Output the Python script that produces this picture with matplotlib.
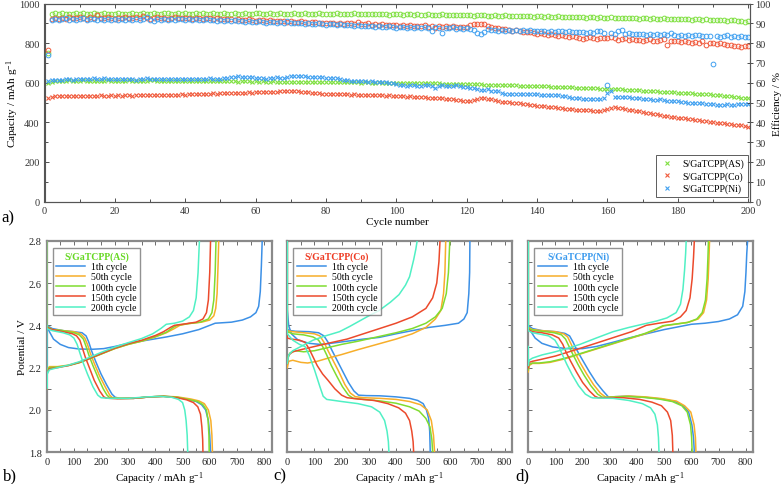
import matplotlib
matplotlib.use("Agg")
import matplotlib.pyplot as plt
from matplotlib.ticker import MultipleLocator

plt.rcParams["font.family"] = ["Liberation Serif", "DejaVu Serif"]
plt.rcParams["mathtext.fontset"] = "custom"
plt.rcParams["mathtext.rm"] = "Liberation Serif"
plt.rcParams["mathtext.it"] = "Liberation Serif:italic"

# ---------------- panel a: cycling data ----------------
cycles = list(range(1, 201))

cap_as = [600,
          606, 608, 610, 609, 611, 612, 610, 609, 611, 612, 610, 608, 609, 611, 610, 609, 612, 611, 610,
          609, 610, 611, 612, 609, 608, 610, 611, 609, 612, 613, 610, 608, 609, 611, 610, 609, 608, 610, 611,
          610, 609, 608, 610, 611, 609, 608, 607, 609, 610, 608, 607, 609, 608, 606, 607, 608, 607, 606, 607,
          606, 607, 605, 606, 607, 606, 605, 606, 604, 605, 606, 605, 604, 605, 606, 604, 603, 605, 604, 603,
          604, 603, 602, 604, 603, 602, 603, 604, 602, 601, 603, 602, 601, 600, 602, 601, 600, 601, 599, 600,
          599, 600, 598, 599, 598, 597, 598, 597, 597, 596, 596, 596, 595, 595, 594, 594, 594, 593, 593, 592,
          592, 592, 591, 591, 590, 590, 589, 589, 588, 588, 587, 587, 586, 586, 585, 585, 584, 584, 583, 583,
          582, 581, 581, 580, 579, 579, 578, 577, 577, 576, 575, 574, 574, 573, 572, 572, 571, 570, 569, 569,
          568, 567, 566, 566, 565, 564, 563, 562, 561, 560, 559, 558, 557, 556, 555, 554, 553, 552, 551, 550,
          549, 548, 547, 546, 545, 544, 543, 542, 541, 540, 539, 537, 535, 533, 531, 529, 527, 525, 523, 521]

cap_co = [525,
          530, 532, 533, 532, 534, 533, 532, 534, 535, 534, 533, 532, 535, 534, 536, 535, 534, 536, 535,
          536, 535, 537, 536, 535, 537, 538, 537, 536, 538, 539, 538, 537, 539, 540, 539, 538, 540, 541, 540,
          542, 541, 543, 542, 544, 545, 544, 546, 545, 547, 546, 548, 547, 549, 548, 550, 549, 551, 550, 552,
          551, 553, 552, 554, 555, 554, 556, 557, 556, 558, 557, 556, 555, 554, 552, 550, 548, 547, 545, 544,
          543, 544, 542, 543, 541, 542, 540, 541, 539, 540, 538, 539, 537, 538, 536, 537, 535, 536, 534, 535,
          533, 532, 530, 531, 529, 527, 528, 526, 524, 525, 523, 521, 522, 520, 518, 516, 514, 512, 510, 509,
          510, 514, 520, 525, 524, 520, 516, 512, 508, 505, 503, 501, 500, 498, 496, 493, 490, 488, 486, 484,
          482, 480, 478, 477, 475, 473, 471, 469, 467, 466, 464, 463, 462, 461, 460, 459, 458, 459, 461, 465,
          470, 475, 473, 470, 467, 464, 461, 458, 455, 452, 449, 446, 443, 440, 437, 434, 431, 428, 426, 424,
          422, 420, 417, 415, 412, 410, 407, 405, 402, 400, 398, 396, 394, 392, 390, 388, 386, 384, 381, 378]

cap_ni = [610,
          615, 613, 616, 614, 617, 618, 616, 620, 619, 617, 618, 620, 622, 619, 621, 623, 620, 618, 617,
          619, 620, 618, 617, 619, 616, 618, 620, 622, 621, 619, 618, 620, 621, 619, 617, 618, 620, 619, 617,
          618, 620, 621, 619, 618, 620, 622, 619, 617, 620, 622, 625, 628, 630, 632, 631, 629, 628, 627, 625,
          624, 622, 621, 623, 626, 627, 625, 624, 628, 632, 635, 634, 636, 633, 631, 630, 629, 628, 627, 626,
          625, 624, 622, 620, 615, 612, 610, 608, 607, 608, 609, 606, 607, 605, 604, 606, 603, 600, 597, 594,
          590, 586, 584, 586, 588, 584, 583, 586, 589, 585, 574, 581, 587, 583, 585, 582, 586, 584, 579, 576,
          573, 575, 566, 562, 565, 568, 560, 557, 560, 546, 544, 545, 543, 544, 542, 545, 543, 541, 543, 541,
          539, 540, 538, 537, 539, 536, 535, 533, 529, 525, 522, 521, 520, 518, 519, 520, 518, 519, 521, 548,
          556, 528, 526, 529, 527, 526, 524, 523, 522, 520, 519, 517, 515, 513, 516, 512, 510, 509, 507, 506,
          504, 503, 500, 498, 499, 497, 496, 494, 492, 490, 489, 487, 489, 490, 487, 489, 491, 490, 492, 490]

eff_as = [75.0,
          94.8, 95.0, 94.6, 95.2, 94.9, 94.5, 94.8, 95.1, 94.7, 95.0, 94.6, 94.9, 95.3, 94.8, 94.5, 95.0, 94.7, 94.9, 94.6,
          95.0, 94.7, 94.5, 94.9, 95.1, 94.8, 94.6, 95.0, 94.7, 94.9, 95.2, 94.8, 94.6, 95.0, 95.3, 94.9, 94.7, 95.1, 94.8, 95.0,
          94.9, 94.7, 95.1, 94.8, 95.0, 94.6, 94.9, 95.2, 94.8, 94.7, 95.0, 94.6, 94.9, 95.1, 94.8, 94.7, 95.0, 94.6, 94.9, 95.3,
          95.0, 94.8, 94.7, 95.1, 94.9, 94.6, 95.0, 94.8, 94.7, 94.9, 95.1, 94.8, 94.6, 95.0, 94.8, 94.9, 94.7, 95.0, 94.6, 94.8,
          94.9, 94.7, 95.0, 94.6, 94.8, 94.9, 94.7, 95.0, 94.6, 94.8, 94.5, 94.7, 94.9, 94.6, 94.8, 94.5, 94.7, 94.4, 94.6, 94.5,
          94.7, 94.4, 94.6, 94.5, 94.3, 94.6, 94.4, 94.2, 94.5, 94.3, 94.4, 94.2, 94.5, 94.1, 94.3, 94.2, 94.4, 94.1, 94.3, 94.0,
          94.2, 93.9, 94.1, 94.0, 94.2, 93.9, 93.8, 94.1, 93.9, 93.7, 94.0, 93.8, 93.6, 93.9, 93.7, 93.5, 93.8, 93.6, 93.4, 93.7,
          93.5, 93.3, 93.6, 93.4, 93.2, 93.5, 93.3, 93.1, 93.4, 93.2, 93.0, 93.3, 93.1, 92.9, 93.2, 93.0, 92.8, 93.1, 92.9, 92.7,
          93.0, 92.8, 92.6, 92.9, 92.7, 92.5, 92.8, 92.6, 92.4, 92.7, 92.5, 92.3, 92.6, 92.4, 92.2, 92.5, 92.3, 92.1, 92.4, 92.2,
          92.0, 92.3, 92.1, 91.9, 92.2, 92.0, 91.8, 92.1, 91.9, 91.7, 91.5, 91.8, 91.6, 91.4, 91.7, 91.5, 91.2, 91.4, 90.9, 91.1]

eff_co = [76.5,
          92.2, 92.6, 92.0, 92.8, 92.4, 93.0, 92.5, 92.9, 93.4, 92.7, 92.3, 93.1, 92.6, 94.0, 92.8, 92.5, 93.0, 92.7, 92.4,
          92.9, 92.6, 93.1, 92.5, 92.8, 93.2, 92.7, 93.5, 92.9, 92.3, 92.8, 93.0, 92.6, 92.9, 92.4, 92.8, 93.1, 92.6, 92.9, 92.5,
          92.8, 92.4, 92.9, 92.6, 92.2, 92.7, 92.5, 92.1, 92.6, 92.3, 92.0, 92.4, 92.1, 91.8, 92.2, 91.9, 91.6, 92.0, 91.7, 91.4,
          91.8, 91.5, 91.2, 91.6, 91.3, 91.0, 91.4, 91.1, 90.8, 91.2, 90.9, 90.6, 91.0, 90.7, 90.4, 90.8, 90.5, 90.2, 90.0, 89.9,
          90.3, 90.0, 89.7, 90.1, 89.8, 90.4, 90.2, 89.8, 90.5, 89.7, 89.5, 89.9, 89.3, 89.6, 89.2, 89.5, 89.0, 89.3, 88.9, 89.1,
          88.8, 89.2, 88.6, 88.9, 88.4, 88.8, 88.5, 88.9, 88.3, 88.7, 87.5, 88.6, 88.2, 88.5, 88.1, 88.4, 88.0, 88.3, 87.9, 88.2,
          89.3, 89.7, 89.5, 89.8, 89.4, 88.6, 88.2, 87.8, 87.5, 87.2, 86.9, 86.6, 86.3, 86.5, 86.0, 85.8, 85.4, 85.6, 85.1, 84.8,
          85.0, 84.6, 84.3, 84.5, 84.1, 83.8, 84.0, 83.6, 83.3, 83.5, 83.1, 82.8, 82.1, 82.4, 82.9, 82.6, 82.3, 82.5, 82.8, 82.4,
          83.0, 82.6, 81.8, 82.1, 82.5, 81.7, 82.0, 81.4, 81.8, 81.2, 81.5, 81.9, 81.3, 80.9, 81.4, 82.2, 78.8, 80.9, 81.3, 81.0,
          80.7, 81.1, 80.4, 80.0, 80.6, 80.3, 81.0, 79.2, 80.1, 79.8, 79.5, 79.9, 79.6, 79.2, 79.0, 78.6, 78.3, 78.1, 78.3, 78.4]

eff_ni = [74.0,
          91.8, 92.3, 91.6, 92.0, 92.5, 91.9, 92.2, 91.5, 92.1, 92.6, 91.8, 92.3, 92.0, 91.7, 92.4, 91.9, 92.2, 91.6, 92.0,
          91.7, 92.2, 91.9, 92.4, 91.6, 92.1, 91.8, 92.3, 93.0, 91.9, 91.2, 92.0, 91.7, 92.2, 91.8, 92.1, 91.6, 92.0, 92.4, 91.9,
          92.1, 91.7, 92.3, 91.8, 91.5, 92.0, 91.6, 91.9, 91.4, 91.8, 91.3, 91.6, 91.2, 91.5, 91.0, 91.3, 90.8, 91.2, 90.9, 90.6,
          91.0, 90.7, 90.4, 90.8, 90.5, 90.2, 90.6, 90.3, 91.0, 90.1, 89.9, 90.3, 90.0, 89.7, 90.2, 89.8, 89.5, 89.9, 89.6, 89.3,
          89.7, 89.4, 89.1, 89.5, 89.2, 88.9, 89.3, 88.6, 89.0, 88.7, 88.4, 88.8, 88.5, 88.2, 88.6, 88.3, 88.0, 88.4, 88.1, 87.8,
          88.2, 87.9, 87.6, 88.0, 87.7, 88.3, 87.5, 88.1, 87.8, 85.9, 88.0, 87.6, 84.9, 87.7, 87.4, 87.9, 87.3, 87.6, 87.2, 87.5,
          87.0, 86.8, 85.2, 84.6, 85.5, 86.9, 86.5, 86.8, 86.2, 86.6, 86.3, 86.7, 86.1, 86.5, 86.2, 86.6, 86.0, 86.4, 86.1, 85.9,
          86.3, 86.0, 85.7, 86.1, 85.8, 86.2, 85.9, 85.6, 86.0, 85.7, 85.4, 85.8, 85.5, 85.2, 85.6, 85.3, 85.9, 86.2, 85.1, 59.0,
          85.0, 84.8, 86.0, 86.4, 84.6, 84.9, 84.5, 84.8, 84.4, 84.7, 84.3, 84.6, 84.2, 84.5, 84.1, 84.4, 84.0, 85.2, 84.3, 83.8,
          84.1, 83.7, 84.0, 83.6, 84.2, 83.9, 83.5, 83.8, 83.4, 69.5, 83.7, 83.3, 83.6, 83.9, 83.2, 83.5, 83.1, 83.4, 83.0, 83.2]

series_labels = ["S/GaTCPP(AS)", "S/GaTCPP(Co)", "S/GaTCPP(Ni)"]
series_colors = ["#7fe040", "#f05a3c", "#40a0f0"]

# ---------------- panels b-d: charge / discharge profiles ----------------
cycle_labels = ["1th cycle", "50th cycle", "100th cycle", "150th cycle", "200th cycle"]
cycle_colors = ["#3c90e6", "#f7ae2a", "#80dc30", "#ec4a2c", "#50f0c4"]

# (capacity mAh/g, potential V)
as_dis = [
    [(0, 2.80), (0, 2.40), (20, 2.385), (60, 2.375), (100, 2.37), (130, 2.365), (145, 2.35), (155, 2.32), (165, 2.28), (180, 2.23), (200, 2.17), (220, 2.12), (240, 2.075), (252, 2.06), (270, 2.055), (320, 2.055), (380, 2.062), (430, 2.065), (480, 2.06), (520, 2.05), (550, 2.04), (570, 2.025), (585, 2.0), (595, 1.95), (600, 1.88), (603, 1.80)],
    [(0, 2.80), (0, 2.395), (20, 2.38), (60, 2.375), (100, 2.37), (125, 2.36), (140, 2.34), (150, 2.31), (160, 2.27), (175, 2.22), (195, 2.16), (215, 2.11), (232, 2.07), (242, 2.058), (270, 2.055), (320, 2.055), (380, 2.062), (430, 2.065), (480, 2.062), (530, 2.052), (560, 2.043), (580, 2.03), (595, 2.0), (604, 1.95), (608, 1.88), (610, 1.80)],
    [(0, 2.80), (0, 2.395), (20, 2.38), (60, 2.375), (100, 2.365), (120, 2.355), (135, 2.335), (145, 2.30), (155, 2.26), (170, 2.21), (190, 2.15), (208, 2.10), (222, 2.07), (232, 2.058), (260, 2.055), (320, 2.055), (380, 2.062), (430, 2.065), (480, 2.06), (520, 2.05), (555, 2.04), (575, 2.025), (588, 2.0), (594, 1.95), (597, 1.88), (598, 1.80)],
    [(0, 2.80), (0, 2.39), (20, 2.38), (60, 2.37), (95, 2.36), (110, 2.35), (122, 2.33), (132, 2.29), (142, 2.25), (157, 2.20), (175, 2.14), (195, 2.09), (210, 2.062), (220, 2.056), (260, 2.053), (320, 2.055), (380, 2.062), (430, 2.064), (480, 2.058), (515, 2.048), (540, 2.035), (556, 2.015), (566, 1.98), (571, 1.92), (574, 1.86), (575, 1.80)],
    [(0, 2.80), (0, 2.385), (20, 2.375), (60, 2.365), (85, 2.355), (100, 2.34), (112, 2.31), (122, 2.27), (135, 2.22), (150, 2.17), (170, 2.11), (188, 2.07), (200, 2.058), (230, 2.055), (300, 2.055), (370, 2.062), (420, 2.064), (460, 2.06), (485, 2.05), (500, 2.035), (508, 2.0), (513, 1.95), (517, 1.88), (519, 1.80)],
]
as_chg = [
    [(0, 2.16), (0, 2.40), (10, 2.37), (25, 2.335), (50, 2.31), (80, 2.295), (120, 2.288), (170, 2.287), (210, 2.29), (250, 2.30), (300, 2.315), (370, 2.33), (440, 2.345), (500, 2.36), (560, 2.38), (600, 2.40), (620, 2.41), (680, 2.415), (720, 2.425), (750, 2.44), (770, 2.46), (780, 2.49), (786, 2.56), (790, 2.68), (793, 2.80)],
    [(0, 2.10), (2, 2.19), (10, 2.205), (40, 2.205), (80, 2.212), (120, 2.225), (160, 2.245), (200, 2.265), (250, 2.29), (300, 2.31), (350, 2.325), (400, 2.345), (440, 2.365), (470, 2.385), (490, 2.40), (520, 2.408), (570, 2.415), (600, 2.425), (615, 2.445), (622, 2.48), (627, 2.55), (631, 2.70), (633, 2.80)],
    [(0, 2.10), (2, 2.19), (10, 2.20), (40, 2.203), (80, 2.21), (120, 2.223), (160, 2.243), (200, 2.264), (250, 2.29), (300, 2.31), (350, 2.326), (400, 2.347), (440, 2.367), (465, 2.39), (480, 2.40), (520, 2.408), (565, 2.415), (595, 2.43), (608, 2.46), (615, 2.52), (620, 2.65), (623, 2.80)],
    [(0, 2.10), (2, 2.18), (10, 2.195), (40, 2.20), (80, 2.21), (120, 2.225), (160, 2.245), (200, 2.266), (250, 2.292), (300, 2.313), (350, 2.33), (400, 2.352), (430, 2.37), (455, 2.39), (470, 2.40), (510, 2.407), (550, 2.415), (575, 2.43), (588, 2.46), (595, 2.52), (600, 2.65), (603, 2.80)],
    [(0, 2.40), (0, 2.10), (2, 2.17), (10, 2.19), (40, 2.20), (80, 2.212), (120, 2.228), (160, 2.25), (200, 2.272), (250, 2.297), (300, 2.318), (350, 2.338), (390, 2.36), (420, 2.385), (440, 2.405), (470, 2.41), (500, 2.42), (525, 2.44), (540, 2.47), (550, 2.53), (557, 2.65), (562, 2.80)],
]

co_dis = [
    [(0, 2.80), (0, 2.38), (12, 2.375), (30, 2.372), (80, 2.37), (115, 2.365), (135, 2.35), (150, 2.32), (165, 2.28), (185, 2.23), (205, 2.18), (225, 2.13), (245, 2.09), (262, 2.07), (290, 2.068), (340, 2.067), (400, 2.062), (450, 2.055), (480, 2.045), (500, 2.03), (512, 2.0), (520, 1.96), (524, 1.90), (526, 1.80)],
    [(0, 2.80), (0, 2.375), (20, 2.37), (60, 2.365), (100, 2.36), (120, 2.35), (135, 2.32), (150, 2.28), (170, 2.23), (190, 2.18), (212, 2.12), (232, 2.08), (250, 2.063), (280, 2.058), (340, 2.055), (400, 2.05), (450, 2.04), (490, 2.025), (515, 2.0), (530, 1.95), (538, 1.88), (542, 1.80)],
    [(0, 2.80), (0, 2.37), (20, 2.36), (60, 2.355), (95, 2.345), (115, 2.33), (130, 2.30), (145, 2.26), (162, 2.21), (182, 2.16), (203, 2.11), (225, 2.07), (243, 2.055), (280, 2.05), (340, 2.043), (400, 2.032), (450, 2.015), (485, 1.995), (510, 1.96), (525, 1.92), (532, 1.86), (535, 1.80)],
    [(0, 2.80), (0, 2.34), (15, 2.335), (45, 2.33), (65, 2.32), (80, 2.29), (95, 2.25), (110, 2.21), (130, 2.17), (150, 2.14), (175, 2.10), (200, 2.07), (220, 2.058), (260, 2.052), (320, 2.045), (370, 2.03), (410, 2.01), (435, 1.985), (450, 1.95), (458, 1.90), (463, 1.85), (465, 1.80)],
    [(0, 2.80), (0, 2.36), (20, 2.33), (45, 2.31), (65, 2.30), (80, 2.26), (100, 2.19), (120, 2.11), (132, 2.065), (145, 2.05), (200, 2.04), (260, 2.03), (310, 2.015), (340, 1.99), (358, 1.95), (367, 1.90), (372, 1.85), (374, 1.80)],
]
co_chg = [
    [(0, 2.47), (5, 2.40), (15, 2.36), (40, 2.33), (80, 2.315), (120, 2.31), (160, 2.315), (220, 2.325), (280, 2.335), (338, 2.343), (400, 2.36), (460, 2.375), (520, 2.39), (581, 2.40), (630, 2.41), (650, 2.43), (662, 2.46), (668, 2.55), (671, 2.65), (672, 2.80)],
    [(0, 2.20), (5, 2.23), (20, 2.235), (50, 2.225), (75, 2.222), (110, 2.23), (150, 2.245), (200, 2.262), (260, 2.285), (330, 2.31), (400, 2.335), (460, 2.36), (510, 2.39), (545, 2.43), (565, 2.47), (575, 2.55), (580, 2.65), (583, 2.80)],
    [(0, 2.24), (10, 2.27), (30, 2.28), (60, 2.275), (100, 2.28), (150, 2.295), (200, 2.31), (260, 2.325), (330, 2.345), (400, 2.365), (460, 2.385), (510, 2.41), (545, 2.44), (570, 2.48), (585, 2.55), (593, 2.65), (598, 2.80)],
    [(0, 2.22), (5, 2.26), (20, 2.275), (50, 2.285), (100, 2.30), (160, 2.318), (220, 2.335), (280, 2.36), (340, 2.385), (400, 2.41), (460, 2.44), (510, 2.48), (535, 2.53), (550, 2.60), (558, 2.70), (562, 2.80)],
    [(0, 2.22), (5, 2.26), (20, 2.28), (50, 2.30), (95, 2.33), (140, 2.35), (192, 2.37), (230, 2.395), (265, 2.42), (300, 2.445), (338, 2.47), (380, 2.51), (411, 2.545), (435, 2.59), (450, 2.63), (465, 2.71), (473, 2.76), (478, 2.80)],
]

ni_dis = [
    [(0, 2.80), (0, 2.40), (15, 2.385), (50, 2.375), (100, 2.37), (135, 2.362), (152, 2.35), (165, 2.32), (180, 2.28), (200, 2.235), (225, 2.18), (250, 2.13), (275, 2.09), (296, 2.06), (320, 2.063), (370, 2.065), (430, 2.06), (490, 2.052), (540, 2.04), (570, 2.02), (590, 1.99), (602, 1.93), (608, 1.87), (611, 1.80)],
    [(0, 2.80), (0, 2.39), (15, 2.38), (50, 2.375), (100, 2.37), (130, 2.36), (145, 2.345), (158, 2.31), (172, 2.27), (190, 2.225), (215, 2.17), (240, 2.12), (265, 2.08), (285, 2.06), (310, 2.062), (370, 2.066), (430, 2.062), (490, 2.054), (545, 2.042), (575, 2.02), (598, 1.99), (610, 1.93), (615, 1.87), (617, 1.80)],
    [(0, 2.80), (0, 2.385), (15, 2.378), (50, 2.372), (95, 2.365), (122, 2.355), (137, 2.335), (150, 2.30), (165, 2.26), (183, 2.215), (205, 2.165), (230, 2.115), (255, 2.075), (273, 2.06), (300, 2.06), (360, 2.064), (420, 2.06), (480, 2.052), (530, 2.04), (565, 2.02), (585, 1.99), (597, 1.93), (601, 1.87), (603, 1.80)],
    [(0, 2.80), (0, 2.38), (15, 2.37), (50, 2.365), (88, 2.355), (112, 2.34), (127, 2.31), (140, 2.27), (156, 2.23), (177, 2.18), (200, 2.13), (225, 2.09), (245, 2.065), (257, 2.058), (290, 2.058), (350, 2.058), (410, 2.05), (455, 2.037), (490, 2.02), (512, 1.99), (524, 1.95), (530, 1.88), (532, 1.80)],
    [(0, 2.80), (0, 2.375), (15, 2.365), (45, 2.358), (75, 2.35), (98, 2.33), (112, 2.30), (126, 2.26), (142, 2.215), (162, 2.165), (185, 2.115), (210, 2.075), (230, 2.06), (238, 2.057), (270, 2.056), (312, 2.055), (370, 2.045), (420, 2.03), (450, 2.01), (466, 1.98), (475, 1.93), (479, 1.87), (481, 1.80)],
]
ni_chg = [
    [(0, 2.40), (10, 2.37), (25, 2.34), (50, 2.315), (90, 2.298), (140, 2.29), (200, 2.29), (250, 2.30), (312, 2.32), (370, 2.34), (434, 2.36), (500, 2.38), (560, 2.395), (600, 2.405), (650, 2.41), (700, 2.418), (740, 2.43), (770, 2.45), (789, 2.49), (797, 2.56), (801, 2.65), (804, 2.74), (807, 2.80)],
    [(0, 2.18), (3, 2.21), (15, 2.22), (40, 2.22), (80, 2.225), (130, 2.24), (180, 2.26), (230, 2.28), (280, 2.30), (330, 2.32), (380, 2.34), (430, 2.36), (470, 2.38), (500, 2.398), (540, 2.405), (590, 2.415), (625, 2.43), (645, 2.46), (656, 2.52), (662, 2.62), (665, 2.72), (667, 2.80)],
    [(0, 2.19), (3, 2.215), (15, 2.222), (40, 2.222), (80, 2.228), (130, 2.243), (180, 2.262), (230, 2.282), (280, 2.302), (330, 2.322), (380, 2.342), (430, 2.362), (465, 2.38), (495, 2.398), (535, 2.405), (585, 2.413), (620, 2.43), (640, 2.46), (652, 2.52), (658, 2.62), (661, 2.72), (663, 2.80)],
    [(0, 2.20), (3, 2.225), (15, 2.23), (50, 2.24), (100, 2.255), (150, 2.275), (200, 2.295), (260, 2.32), (320, 2.345), (380, 2.37), (434, 2.40), (480, 2.41), (532, 2.42), (560, 2.44), (581, 2.47), (595, 2.53), (603, 2.62), (608, 2.72), (611, 2.80)],
    [(0, 2.30), (0, 2.21), (3, 2.235), (15, 2.245), (50, 2.26), (90, 2.272), (128, 2.285), (190, 2.31), (250, 2.34), (312, 2.37), (370, 2.39), (420, 2.405), (471, 2.42), (510, 2.435), (544, 2.46), (560, 2.50), (569, 2.57), (575, 2.66), (579, 2.74), (581, 2.80)],
]

panel_titles = ["S/GaTCPP(AS)", "S/GaTCPP(Co)", "S/GaTCPP(Ni)"]
title_colors = ["#66d822", "#ee3a22", "#3a9aee"]

W, H = 784, 485


def px_axes(fig, left, top, right, bottom):
    return fig.add_axes([left / W, 1 - bottom / H, (right - left) / W, (bottom - top) / H])


def plot_cycling(fig):
    ax = px_axes(fig, 44.5, 4.5, 750, 202.5)
    ax2 = ax.twinx()
    caps = [cap_as, cap_co, cap_ni]
    effs = [eff_as, eff_co, eff_ni]
    for cap, eff, col, lab in zip(caps, effs, series_colors, series_labels):
        ax.plot(cycles, cap, ls="none", marker="x", ms=3.0, mew=0.8, color=col, label=lab)
        ax2.plot(cycles, eff, ls="none", marker="o", ms=3.4, mew=0.7, mfc="none", color=col)

    ax.set_xlim(0, 200.5)
    ax.set_ylim(0, 1000)
    ax2.set_ylim(0, 100)
    ax.xaxis.set_major_locator(MultipleLocator(20))
    ax.xaxis.set_minor_locator(MultipleLocator(10))
    ax.yaxis.set_major_locator(MultipleLocator(200))
    ax.yaxis.set_minor_locator(MultipleLocator(100))
    ax2.yaxis.set_major_locator(MultipleLocator(10))
    ax.tick_params(which="both", direction="in", top=True, labelsize=7.5, colors="#333333", length=3, width=0.6)
    ax.tick_params(which="minor", length=2)
    ax2.tick_params(direction="inout", labelsize=7.5, colors="#333333", length=4, width=0.6, pad=2)
    for a in (ax, ax2):
        for sp in a.spines.values():
            sp.set_color("#555555")
            sp.set_linewidth(0.8)

    ax.set_xlabel("Cycle number", fontsize=8, labelpad=1)
    ax.set_ylabel("Capacity / mAh g$^{-1}$", fontsize=8)
    ax.yaxis.set_label_coords(-0.034, 0.5)
    ax2.set_ylabel("Efficiency / %", fontsize=8, labelpad=1)

    leg = ax2.legend(*ax.get_legend_handles_labels(), loc="lower right", bbox_to_anchor=(0.997, 0.022),
                     borderaxespad=0, fontsize=7, frameon=True, fancybox=False, handlelength=1.5,
                     handletextpad=0.8, labelspacing=0.3, borderpad=0.4)
    leg.get_frame().set_edgecolor("#333333")
    leg.get_frame().set_linewidth(0.7)


def plot_profile(fig, left, dis, chg, title, title_color, show_ylabel):
    ax = px_axes(fig, left, 241.7, left + 225, 453.3)
    for curve_d, curve_c, col, lab in zip(dis, chg, cycle_colors, cycle_labels):
        q, v = zip(*curve_d)
        ax.plot(q, v, color=col, lw=1.1, label=lab, zorder=3)
        q, v = zip(*curve_c)
        ax.plot(q, v, color=col, lw=1.1, zorder=3)

    ax.set_xlim(0, 828)
    ax.set_ylim(1.8, 2.8)
    ax.xaxis.set_major_locator(MultipleLocator(100))
    ax.xaxis.set_minor_locator(MultipleLocator(50))
    ax.yaxis.set_major_locator(MultipleLocator(0.2))
    ax.yaxis.set_minor_locator(MultipleLocator(0.1))
    ax.tick_params(which="both", direction="in", top=True, right=True, labelsize=7.5, colors="#555555",
                   length=3, width=0.6)
    ax.tick_params(which="minor", length=3)
    ax.tick_params(labelcolor="#222222")
    for sp in ax.spines.values():
        sp.set_color("#8a8a8a")
        sp.set_linewidth(1.6)
    ax.set_xlabel("Capacity / mAh g$^{-1}$", fontsize=8, labelpad=2)
    if show_ylabel:
        ax.set_ylabel("Potential / V", fontsize=8)
        ax.yaxis.set_label_coords(-0.088, 0.5)
        ax.yaxis.set_major_formatter(plt.FuncFormatter(lambda v, p: f"{v:.1f}"))
    else:
        ax.tick_params(labelleft=False)

    leg = ax.legend(loc="upper left", bbox_to_anchor=(0.027, 0.965), borderaxespad=0, fontsize=7,
                    frameon=True, fancybox=False, handlelength=3.0, handletextpad=0.6,
                    labelspacing=0.12, borderpad=0.35, title=title)
    leg.get_title().set_color(title_color)
    leg.get_title().set_fontweight("bold")
    leg.get_title().set_fontsize(7)
    leg.get_frame().set_edgecolor("#777777")
    leg.get_frame().set_linewidth(1.0)
    leg.set_zorder(5)
    return ax


def main():
    fig = plt.figure(figsize=(W / 100, H / 100), dpi=100)
    plot_cycling(fig)
    plot_profile(fig, 46.7, as_dis, as_chg, panel_titles[0], title_colors[0], True)
    plot_profile(fig, 287.3, co_dis, co_chg, panel_titles[1], title_colors[1], False)
    plot_profile(fig, 528.3, ni_dis, ni_chg, panel_titles[2], title_colors[2], False)

    fig.text(1 / W, 1 - 218 / H, "a)", fontsize=12, va="center", ha="left")
    fig.text(3 / W, 1 - 476 / H, "b)", fontsize=12, va="center", ha="left")
    fig.text(273 / W, 1 - 476 / H, "c)", fontsize=12, va="center", ha="left")
    fig.text(515 / W, 1 - 476 / H, "d)", fontsize=12, va="center", ha="left")

    fig.savefig("out.png", dpi=100)


if __name__ == "__main__":
    main()
